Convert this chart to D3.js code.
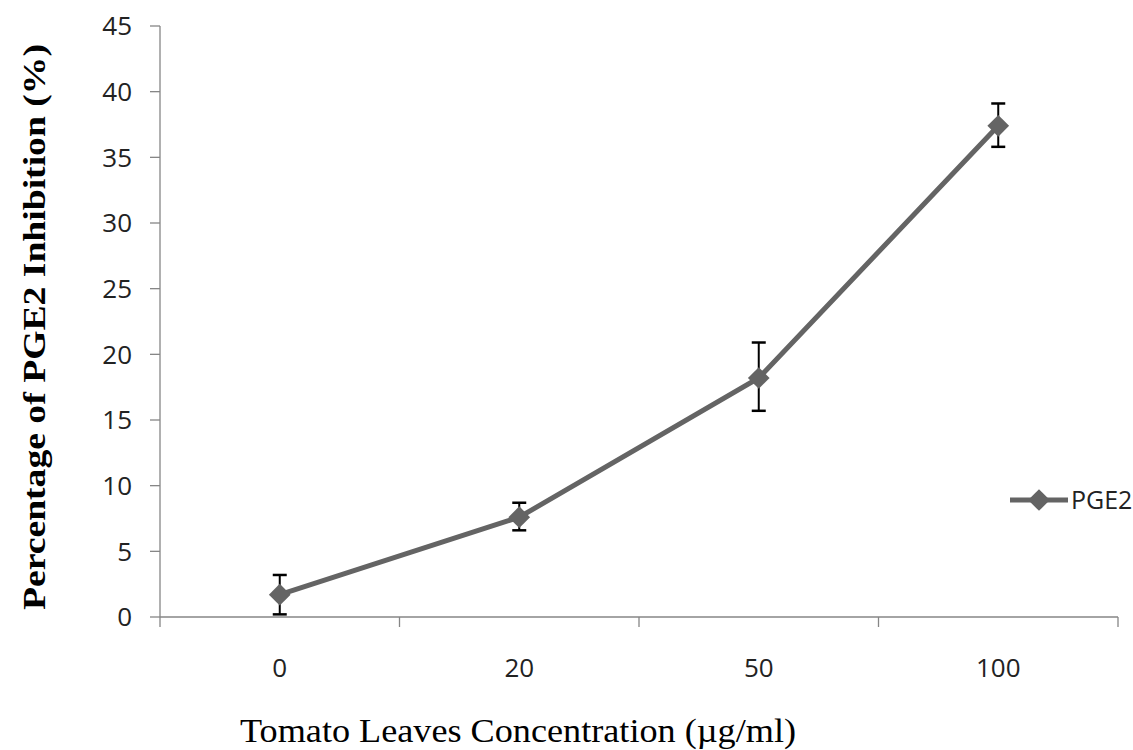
<!DOCTYPE html>
<html>
<head>
<meta charset="utf-8">
<script src="https://cdn.jsdelivr.net/npm/d3@7"></script>
<style>
  body { margin: 0; background: #fff; }
  svg { display: block; }
</style>
</head>
<body>
<div id="chart"></div>
<script>
//data
const categories = ["0", "20", "50", "100"];
const values = [1.7, 7.6, 18.2, 37.4];
const errLow = [0.2, 6.6, 15.7, 35.8];
const errHigh = [3.2, 8.7, 20.9, 39.1];
const yTicks = [0, 5, 10, 15, 20, 25, 30, 35, 40, 45];
const seriesName = "PGE2";

const width = 1133, height = 750;
const plotLeft = 160, plotRight = 1118, plotTop = 26, plotBottom = 617;

var svg = d3.select("#chart").append("svg")
  .attr("width", width)
  .attr("height", height);

const x = d3.scaleBand()
  .domain(categories)
  .range([plotLeft, plotRight])
  .padding(0);

const y = d3.scaleLinear()
  .domain([0, 45])
  .range([plotBottom, plotTop]);

const axisColor = "#868686";
const lineColor = "#646464";
const tickFont = "'Open Sans', 'Liberation Sans', sans-serif";

// y axis
svg.append("line")
  .attr("x1", plotLeft).attr("x2", plotLeft)
  .attr("y1", y(45)).attr("y2", y(0))
  .attr("stroke", axisColor).attr("stroke-width", 1.3);

svg.selectAll(".ytick")
  .data(yTicks)
  .enter().append("line")
  .attr("x1", plotLeft - 10).attr("x2", plotLeft)
  .attr("y1", d => y(d)).attr("y2", d => y(d))
  .attr("stroke", axisColor).attr("stroke-width", 1.3);

svg.selectAll(".ylab")
  .data(yTicks)
  .enter().append("text")
  .attr("x", plotLeft - 28)
  .attr("y", d => y(d))
  .attr("dy", "0.36em")
  .attr("text-anchor", "end")
  .style("font-family", tickFont)
  .style("font-size", "26px")
  .style("fill", "#222")
  .text(d => d);

// x axis
svg.append("line")
  .attr("x1", plotLeft).attr("x2", plotRight)
  .attr("y1", y(0)).attr("y2", y(0))
  .attr("stroke", axisColor).attr("stroke-width", 1.3);

const boundaries = categories.map(c => x(c)).concat([plotRight]);
svg.selectAll(".xtick")
  .data(boundaries)
  .enter().append("line")
  .attr("x1", d => d).attr("x2", d => d)
  .attr("y1", y(0)).attr("y2", y(0) + 10)
  .attr("stroke", axisColor).attr("stroke-width", 1.3);

svg.selectAll(".xlab")
  .data(categories)
  .enter().append("text")
  .attr("x", d => x(d) + x.bandwidth() / 2)
  .attr("y", 668)
  .attr("dy", "0.36em")
  .attr("text-anchor", "middle")
  .style("font-family", tickFont)
  .style("font-size", "26px")
  .style("fill", "#222")
  .text(d => d);

// axis titles
svg.append("text")
  .attr("transform", `translate(45, 327) rotate(-90)`)
  .attr("text-anchor", "middle")
  .attr("textLength", 566)
  .attr("lengthAdjust", "spacingAndGlyphs")
  .style("font-family", "'Liberation Serif', 'Times New Roman', serif")
  .style("font-weight", "bold")
  .style("font-size", "31px")
  .style("fill", "#000")
  .text("Percentage of PGE2  Inhibition (%)");

svg.append("text")
  .attr("x", 518)
  .attr("y", 742)
  .attr("text-anchor", "middle")
  .attr("textLength", 556)
  .attr("lengthAdjust", "spacingAndGlyphs")
  .style("font-family", "'Liberation Serif', 'Times New Roman', serif")
  .style("font-size", "33px")
  .style("fill", "#000")
  .text("Tomato Leaves Concentration (\u00b5g/ml)");

const pts = categories.map((c, i) => ({ c: c, v: values[i], lo: errLow[i], hi: errHigh[i] }));
const cx = d => x(d.c) + x.bandwidth() / 2;

// series line
const line = d3.line()
  .x(cx)
  .y(d => y(d.v));

svg.append("path")
  .attr("d", line(pts))
  .attr("fill", "none")
  .attr("stroke", lineColor)
  .attr("stroke-width", 5);

// error bars
const cap = 7;
const eb = svg.selectAll(".err").data(pts).enter().append("g");
eb.append("line")
  .attr("x1", cx).attr("x2", cx)
  .attr("y1", d => y(d.lo)).attr("y2", d => y(d.hi))
  .attr("stroke", "#000").attr("stroke-width", 2);
eb.append("line")
  .attr("x1", d => cx(d) - cap).attr("x2", d => cx(d) + cap)
  .attr("y1", d => y(d.lo)).attr("y2", d => y(d.lo))
  .attr("stroke", "#000").attr("stroke-width", 2.5);
eb.append("line")
  .attr("x1", d => cx(d) - cap).attr("x2", d => cx(d) + cap)
  .attr("y1", d => y(d.hi)).attr("y2", d => y(d.hi))
  .attr("stroke", "#000").attr("stroke-width", 2.5);

// diamond markers
const diamond = d3.symbol().type(d3.symbolDiamond2).size(300);
svg.selectAll(".pt")
  .data(pts)
  .enter().append("path")
  .attr("d", diamond)
  .attr("transform", d => `translate(${cx(d)},${y(d.v)})`)
  .attr("fill", lineColor);

// legend
const lg = svg.append("g").attr("transform", "translate(1010, 500)");
lg.append("line")
  .attr("x1", 0).attr("x2", 58)
  .attr("y1", 0).attr("y2", 0)
  .attr("stroke", lineColor).attr("stroke-width", 5);
lg.append("path")
  .attr("d", diamond)
  .attr("transform", "translate(29,0)")
  .attr("fill", lineColor);
lg.append("text")
  .attr("x", 61)
  .attr("y", 0)
  .attr("dy", "0.36em")
  .style("font-family", tickFont)
  .style("font-size", "25px")
  .style("fill", "#222")
  .text(seriesName);
</script>
</body>
</html>
